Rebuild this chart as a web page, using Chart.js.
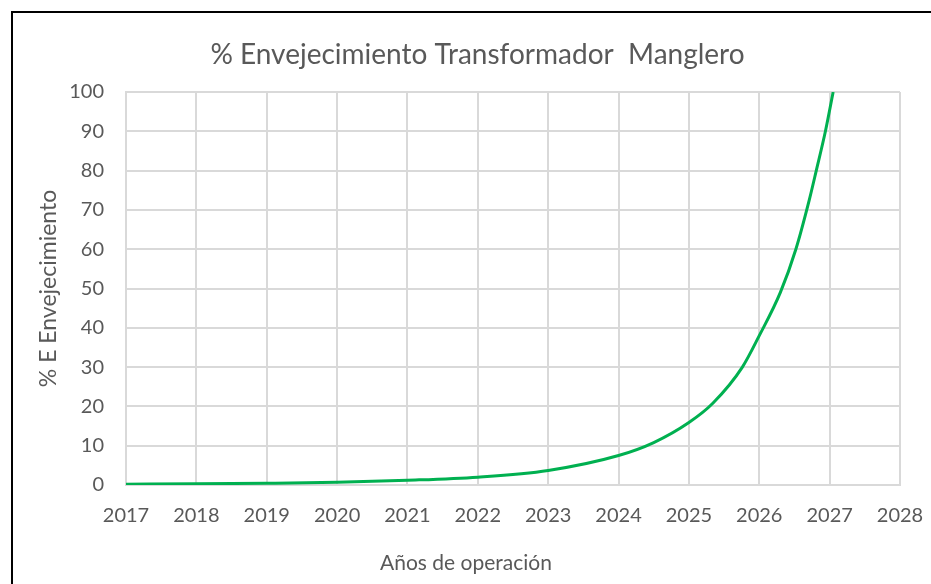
<!DOCTYPE html>
<html>
<head>
<meta charset="utf-8">
<script src="https://cdn.jsdelivr.net/npm/chart.js@4/dist/chart.umd.min.js"></script>
<style>
  html, body { margin: 0; padding: 0; background: #fff; overflow: hidden; }
  #marco { position: absolute; left: 11px; top: 11px; width: 1000px; height: 700px; border: 2px solid #000; box-sizing: border-box; }
  #contenedor { position: absolute; left: 0; top: 0; width: 931px; height: 584px; }
</style>
</head>
<body>
<div id="marco"></div>
<div id="contenedor"><canvas id="grafico" width="931" height="584"></canvas></div>
<script>
const anios = [2017, 2018, 2019, 2020, 2021, 2022, 2023, 2024, 2024.5, 2025, 2025.34, 2025.76, 2026, 2026.3, 2026.52, 2026.71, 2026.81, 2026.94, 2027.05];
const envejecimiento = [0.2, 0.3, 0.45, 0.7, 1.2, 2.0, 3.7, 7.5, 10.8, 15.9, 20.8, 30, 38, 49, 60, 72.5, 80, 90, 100];
const ticksY = [0, 10, 20, 30, 40, 50, 60, 70, 80, 90, 100];
const tituloX = 'Años de operación';

const grisTexto = '#595959';
const fuente = 'Lato, "Open Sans", sans-serif';

const puntos = anios.map((a, i) => ({ x: a, y: envejecimiento[i] }));

// en Excel el titulo y el titulo del eje X van centrados sobre todo el objeto grafico,
// no sobre el area de trazado
const centrarTitulos = {
    id: 'centrarTitulos',
    afterLayout(chart) {
        if (chart.titleBlock) {
            chart.titleBlock.left = 24;
            chart.titleBlock.right = 931;
        }
    },
    afterDraw(chart) {
        const ctx = chart.ctx;
        ctx.save();
        ctx.fillStyle = grisTexto;
        ctx.font = '21px ' + fuente;
        ctx.textAlign = 'center';
        ctx.textBaseline = 'middle';
        ctx.fillText(tituloX, 466, 563);
        ctx.restore();
    }
};

const grafico = new Chart(document.getElementById('grafico'), {
    type: 'line',
    data: {
        datasets: [{
            label: '% Envejecimiento',
            data: puntos,
            borderColor: '#00b050',
            borderWidth: 3,
            pointRadius: 0,
            cubicInterpolationMode: 'monotone',
            fill: false
        }]
    },
    options: {
        responsive: false,
        animation: false,
        layout: { padding: { left: 0, right: 31, top: 0, bottom: 0 } },
        plugins: {
            legend: { display: false },
            tooltip: { enabled: false },
            title: {
                display: true,
                text: '% Envejecimiento Transformador  Manglero',
                color: grisTexto,
                font: { family: fuente, size: 28, weight: 'normal' },
                padding: { top: 38, bottom: 20.4 }
            }
        },
        scales: {
            x: {
                type: 'linear',
                min: 2017,
                max: 2028,
                grid: { color: '#d9d9d9', lineWidth: 2, drawTicks: false },
                border: { color: '#d9d9d9', width: 2 },
                ticks: {
                    stepSize: 1,
                    color: grisTexto,
                    font: { family: fuente, size: 20 },
                    padding: 19,
                    callback: v => String(v)
                },
                afterFit: s => {
                    s.height = 99;
                    s.paddingLeft = 0;
                    s.paddingRight = 0;
                }
            },
            y: {
                min: 0,
                max: 100,
                afterBuildTicks: s => { s.ticks = ticksY.map(v => ({ value: v })); },
                grid: { color: '#d9d9d9', lineWidth: 2, drawTicks: false },
                border: { color: '#d9d9d9', width: 2 },
                ticks: {
                    color: grisTexto,
                    font: { family: fuente, size: 20 },
                    padding: 22
                },
                title: {
                    display: true,
                    text: '% E Envejecimiento',
                    color: grisTexto,
                    font: { family: fuente, size: 23 },
                    padding: { top: 35, bottom: 0 }
                },
                afterFit: s => { s.width = 126; }
            }
        }
    },
    plugins: [centrarTitulos]
});
</script>
</body>
</html>
